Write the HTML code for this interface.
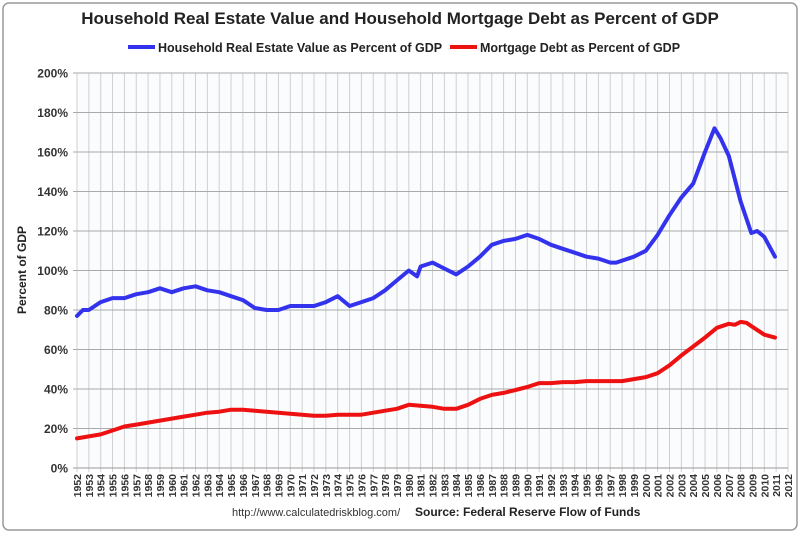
<!DOCTYPE html>
<html><head><meta charset="utf-8"><style>
body{margin:0;background:#fff;font-family:"Liberation Sans",sans-serif}
#wrap{position:relative;width:800px;height:533px}
</style></head><body>
<div id="wrap">
<svg id="chart" width="800" height="533" xmlns="http://www.w3.org/2000/svg">
<rect x="3" y="3" width="794" height="527" rx="6" fill="#fff" stroke="#999" stroke-width="1.5"/>
<text x="400" y="24" text-anchor="middle" font-size="17" font-weight="bold" fill="#222">Household Real Estate Value and Household Mortgage Debt as Percent of GDP</text>
<g>
<line x1="128" y1="47" x2="155" y2="47" stroke="#3333ee" stroke-width="4"/>
<text x="158" y="52" font-size="12.5" font-weight="bold" fill="#222">Household Real Estate Value as Percent of GDP</text>
<line x1="450" y1="47" x2="477" y2="47" stroke="#ee1111" stroke-width="4"/>
<text x="480" y="52" font-size="12.5" font-weight="bold" fill="#222">Mortgage Debt as Percent of GDP</text>
</g>
<text transform="translate(26,270) rotate(-90)" text-anchor="middle" font-size="12" font-weight="bold" fill="#222">Percent of GDP</text>
<g id="grid"></g><g id="series"></g><g id="labels"></g>
<text x="232" y="516" font-size="11" fill="#333">http://www.calculatedriskblog.com/</text>
<text x="415" y="516" font-size="12" font-weight="bold" fill="#222">Source: Federal Reserve Flow of Funds</text>
</svg>
</div>
<script>
const yTicks=[0,20,40,60,80,100,120,140,160,180,200];
const years=[];for(let y=1952;y<=2012;y++)years.push(y);
const reYears=[1952,1952.5,1953,1954,1955,1956,1957,1958,1959,1960,1961,1962,1963,1964,1965,1966,1967,1968,1969,1970,1971,1972,1973,1974,1975,1976,1977,1978,1979,1980,1980.7,1981,1982,1983,1984,1985,1986,1987,1988,1989,1990,1991,1992,1993,1994,1995,1996,1997,1997.5,1998,1999,2000,2001,2002,2003,2004,2005,2005.8,2006.3,2007,2008,2008.9,2009.4,2010,2010.9];
const reValues=[77,80,80,84,86,86,88,89,91,89,91,92,90,89,87,85,81,80,80,82,82,82,84,87,82,84,86,90,95,100,97,102,104,101,98,102,107,113,115,116,118,116,113,111,109,107,106,104,104,105,107,110,118,128,137,144,160,172,167,158,135,119,120,117,107];
const mdYears=[1952,1953,1954,1955,1956,1957,1958,1959,1960,1961,1962,1963,1964,1965,1966,1967,1968,1969,1970,1971,1972,1973,1974,1975,1976,1977,1978,1979,1980,1981,1982,1983,1984,1985,1986,1987,1988,1989,1990,1991,1992,1993,1994,1995,1996,1997,1998,1999,2000,2001,2002,2003,2004,2005,2006,2007,2007.5,2008,2008.5,2009,2010,2010.9];
const mdValues=[15,16,17,19,21,22,23,24,25,26,27,28,28.5,29.5,29.5,29,28.5,28,27.5,27,26.5,26.5,27,27,27,28,29,30,32,31.5,31,30,30,32,35,37,38,39.5,41,43,43,43.5,43.5,44,44,44,44,45,46,48,52,57,61.5,66,71,73,72.5,74,73.5,71.5,67.5,66];
const X0=77,DX=11.85,Y0=468,DY=1.975;
const xs=y=>X0+(y-1952)*DX, ys=v=>Y0-v*DY;
const NS="http://www.w3.org/2000/svg";
const grid=document.getElementById('grid'),labels=document.getElementById('labels'),series=document.getElementById('series');
const bg=document.createElementNS(NS,'rect');
bg.setAttribute('x',X0);bg.setAttribute('y',ys(200));bg.setAttribute('width',xs(2012)-X0);bg.setAttribute('height',Y0-ys(200));bg.setAttribute('fill','#fbfcfe');


grid.appendChild(bg);
years.forEach(y=>{const l=document.createElementNS(NS,'line');l.setAttribute('x1',xs(y));l.setAttribute('x2',xs(y));l.setAttribute('y1',ys(200));l.setAttribute('y2',Y0+4);l.setAttribute('stroke','#d0d0d0');l.setAttribute('stroke-width','1');


grid.appendChild(l);
const t=document.createElementNS(NS,'text');t.setAttribute('transform',`translate(${xs(y)+4},${Y0+6}) rotate(-90)`);t.setAttribute('text-anchor','end');t.setAttribute('font-size','10.5');t.setAttribute('font-weight','bold');t.setAttribute('fill','#333');t.textContent=y;


labels.appendChild(t);});
yTicks.forEach(v=>{const l=document.createElementNS(NS,'line');l.setAttribute('x1',X0-4);l.setAttribute('x2',xs(2012));l.setAttribute('y1',ys(v));l.setAttribute('y2',ys(v));l.setAttribute('stroke',v===0?'#999':'#aaa');l.setAttribute('stroke-width','1');


grid.appendChild(l);
const t=document.createElementNS(NS,'text');t.setAttribute('x',X0-9);t.setAttribute('y',ys(v)+4.5);t.setAttribute('text-anchor','end');t.setAttribute('font-size','12');t.setAttribute('font-weight','bold');t.setAttribute('fill','#333');t.textContent=v+'%';


labels.appendChild(t);});
function line(xa,va,color,name){const p=document.createElementNS(NS,'polyline');p.setAttribute('points',xa.map((x,i)=>xs(x).toFixed(1)+','+ys(va[i]).toFixed(1)).join(' '));p.setAttribute('fill','none');p.setAttribute('stroke',color);p.setAttribute('stroke-width','4');p.setAttribute('stroke-linejoin','round');p.setAttribute('stroke-linecap','round');


series.appendChild(p);}
line(reYears,reValues,'#3333ee','real-estate-line');
line(mdYears,mdValues,'#ee1111','mortgage-debt-line');
</script>
</body></html>
